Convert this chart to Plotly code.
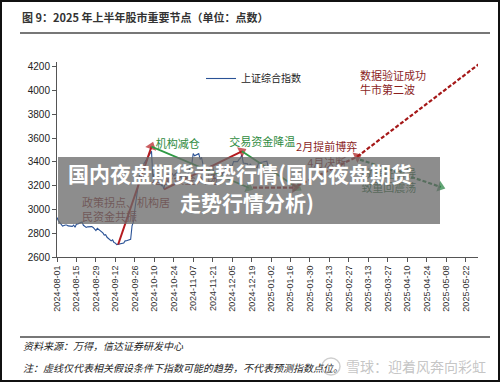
import plotly.graph_objects as go
import pandas as pd

# ---------------- data ----------------
dates = [
    "2024-08-01","2024-08-02","2024-08-05","2024-08-06","2024-08-07","2024-08-08","2024-08-09",
    "2024-08-12","2024-08-13","2024-08-14","2024-08-15","2024-08-16","2024-08-19","2024-08-20",
    "2024-08-21","2024-08-22","2024-08-23","2024-08-26","2024-08-27","2024-08-28","2024-08-29",
    "2024-08-30","2024-09-02","2024-09-03","2024-09-04","2024-09-05","2024-09-06","2024-09-09",
    "2024-09-10","2024-09-11","2024-09-12","2024-09-13","2024-09-18","2024-09-19","2024-09-20",
    "2024-09-23","2024-09-24","2024-09-25","2024-09-26","2024-09-27","2024-09-30","2024-10-08",
    "2024-10-09","2024-10-10","2024-10-11","2024-10-14","2024-10-15","2024-10-16","2024-10-17",
    "2024-10-18","2024-10-21","2024-10-22","2024-10-23","2024-10-24","2024-10-25","2024-10-28",
    "2024-10-29","2024-10-30","2024-10-31","2024-11-01","2024-11-04","2024-11-05","2024-11-06",
    "2024-11-07","2024-11-08","2024-11-11","2024-11-12","2024-11-13","2024-11-14","2024-11-15",
    "2024-11-18","2024-11-19","2024-11-20","2024-11-21","2024-11-22","2024-11-25","2024-11-26",
    "2024-11-27","2024-11-28","2024-11-29","2024-12-02","2024-12-03","2024-12-04","2024-12-05",
    "2024-12-06","2024-12-09","2024-12-10","2024-12-11","2024-12-12","2024-12-13","2024-12-16",
    "2024-12-17","2024-12-18","2024-12-19","2024-12-20","2024-12-23","2024-12-24","2024-12-25",
    "2024-12-26","2024-12-27","2024-12-30","2024-12-31",
]
sh_index = [
    2932, 2905, 2861, 2867, 2870, 2870, 2862,
    2858, 2868, 2851, 2877, 2879, 2894, 2867,
    2857, 2849, 2854, 2856, 2849, 2837, 2823,
    2842, 2811, 2803, 2784, 2788, 2766, 2736,
    2744, 2722, 2717, 2704, 2717, 2736, 2737,
    2749, 2863, 2896, 3001, 3088, 3337, 3490,
    3259, 3302, 3218, 3284, 3201, 3203, 3169,
    3262, 3268, 3286, 3303, 3280, 3300, 3322,
    3286, 3266, 3280, 3272, 3310, 3387, 3384,
    3471, 3452, 3470, 3422, 3439, 3380, 3331,
    3324, 3346, 3368, 3370, 3267, 3264, 3260,
    3310, 3296, 3326, 3364, 3379, 3365, 3368,
    3404, 3403, 3423, 3432, 3462, 3392, 3386,
    3361, 3382, 3370, 3368, 3352, 3394, 3393,
    3398, 3400, 3407, 3352,
]
series_name = "上证综合指数"

y_ticks = [2600, 2800, 3000, 3200, 3400, 3600, 3800, 4000, 4200]
x_ticks = list(pd.date_range("2024-08-01", "2025-05-22", freq="14D"))

# trend arrows (start / end in data units)
trend_x0 = ["2024-09-14", "2024-10-08", "2024-10-17", "2024-12-12", "2024-12-20", "2025-01-21", "2025-03-05", "2025-03-07"]
trend_y0 = [2705, 3530, 3170, 3490, 3185, 3200, 3445, 3420]
trend_x1 = ["2024-10-08", "2024-12-17", "2024-12-12", "2025-01-21", "2025-01-19", "2025-03-05", "2025-06-01", "2025-05-04"]
trend_y1 = [3530, 3183, 3490, 3183, 3185, 3445, 4228, 3190]
trend_color = ["#b51a1e", "#2f9a45", "#b51a1e", "#2f9a45", "#a51818", "#a51818", "#a51818", "#1f7d3a"]
trend_dash = ["solid", "solid", "solid", "solid", "4px,2px", "4px,2px", "4px,2px", "4px,2px"]
trend_width = [2, 1.8, 2, 1.8, 2.2, 2.2, 2.2, 2.2]

# text labels inside the plot
label_text = ["机构减仓", "交易资金降温", "2月提前博弈", "4月决断", "数据验证成功<br>牛市第二波",
              "数据证伪导<br>致重回震荡", "政策拐点、机构居<br>民资金共振", "增量资金入场"]
label_x = ["2024-10-11", "2024-12-03", "2025-01-20", "2025-01-28", "2025-03-07",
           "2025-03-08", "2024-08-19", "2024-10-08"]
label_y = [3543, 3560, 3518, 3383, 4053, 3232, 2983, 3242]
label_color = ["#2e8b3e", "#2e8b3e", "#8b1e1e", "#8b1e1e", "#8b1e1e", "#1f6b35", "#8b1e1e", "#8b1e1e"]

# ---------------- layout helpers ----------------
W, H = 500, 382
ML, MR, MT, MB = 57, 22, 62, 125
PW, PH = W - ML - MR, H - MT - MB


def px(x):
    return (x - ML) / PW


def py(y):
    return (H - MB - y) / PH


CJK = "Noto Sans CJK SC"
LAT = "Liberation Sans"

fig = go.Figure()

fig.add_trace(go.Scatter(
    x=dates, y=sh_index, mode="lines", name=series_name,
    line=dict(color="#2a5296", width=1.1), hoverinfo="skip",
))

for i in range(len(trend_x0)):
    fig.add_trace(go.Scatter(
        x=[trend_x0[i], trend_x1[i]], y=[trend_y0[i], trend_y1[i]],
        mode="lines+markers", showlegend=False, cliponaxis=False, hoverinfo="skip",
        line=dict(color=trend_color[i], width=trend_width[i], dash=trend_dash[i]),
        marker=dict(symbol="triangle-up", size=[0, 10], angleref="previous",
                    color=trend_color[i], line=dict(width=0)),
    ))

for i in range(len(label_text)):
    fig.add_trace(go.Scatter(
        x=[label_x[i]], y=[label_y[i]], mode="text", text=[label_text[i]],
        textposition="middle right", showlegend=False, cliponaxis=False, hoverinfo="skip",
        textfont=dict(family=CJK, size=11, color=label_color[i]),
    ))

shapes = [
    dict(type="line", xref="paper", yref="paper", x0=px(20), x1=px(490), y0=py(33), y1=py(33),
         line=dict(color="#4a4a4a", width=1.5)),
    dict(type="line", xref="paper", yref="paper", x0=px(20), x1=px(490), y0=py(337), y1=py(337),
         line=dict(color="#4a4a4a", width=1.5)),
    dict(type="rect", xref="paper", yref="paper", x0=px(58), x1=px(440), y0=py(224), y1=py(157),
         fillcolor="rgba(105,105,105,0.76)", line=dict(width=0), layer="above"),
    dict(type="circle", xref="paper", yref="paper", x0=px(322), x1=px(340), y0=py(375), y1=py(358),
         line=dict(color="#cfcfcf", width=1.5)),
    dict(type="rect", xref="paper", yref="paper", x0=px(0), x1=px(W), y0=py(H), y1=py(0),
         line=dict(color="#111111", width=4), fillcolor="rgba(0,0,0,0)"),
]

annotations = [
    dict(text="图 9：2025 年上半年股市重要节点（单位：点数）", xref="paper", yref="paper",
         x=px(20), y=py(17), xanchor="left", yanchor="middle", showarrow=False,
         font=dict(family=CJK, size=11, color="#333333", weight="bold")),
    dict(text="<i>资料来源：万得，信达证券研发中心</i>", xref="paper", yref="paper",
         x=px(21), y=py(345), xanchor="left", yanchor="middle", showarrow=False,
         font=dict(family=CJK, size=10, color="#222222")),
    dict(text="<i>注：虚线仅代表相关假设条件下指数可能的趋势，不代表预测指数点位。</i>", xref="paper", yref="paper",
         x=px(21), y=py(367), xanchor="left", yanchor="middle", showarrow=False,
         font=dict(family=CJK, size=10, color="#222222")),
    dict(text="雪球：迎着风奔向彩虹", xref="paper", yref="paper",
         x=px(344), y=py(366), xanchor="left", yanchor="middle", showarrow=False,
         font=dict(family=CJK, size=14, color="rgba(190,190,190,0.9)")),
    dict(text="国内夜盘期货走势行情(国内夜盘期货", xref="paper", yref="paper",
         x=px(240), y=py(173), xanchor="center", yanchor="middle", showarrow=False,
         font=dict(family=CJK, size=21, color="white", weight="bold")),
    dict(text="走势行情分析)", xref="paper", yref="paper",
         x=px(247), y=py(202), xanchor="center", yanchor="middle", showarrow=False,
         font=dict(family=CJK, size=21, color="white", weight="bold")),
]

fig.update_layout(
    width=W, height=H,
    margin=dict(l=ML, r=MR, t=MT, b=MB),
    paper_bgcolor="white", plot_bgcolor="white",
    shapes=shapes, annotations=annotations,
    showlegend=True,
    legend=dict(x=px(201), y=py(64), xanchor="left", yanchor="top",
                bgcolor="rgba(0,0,0,0)", font=dict(family=CJK, size=10, color="#222222")),
    xaxis=dict(type="date", range=["2024-08-01", "2025-05-30 21:36"],
               tickvals=x_ticks, tickformat="%Y-%m-%d", tickangle=-90,
               ticks="outside", ticklen=4, tickcolor="#555555",
               showline=True, linecolor="#555555", linewidth=1,
               showgrid=False, zeroline=False,
               tickfont=dict(family=LAT, size=9, color="#333333")),
    yaxis=dict(range=[2600, 4242], tickvals=y_ticks,
               ticks="outside", ticklen=4, tickcolor="#555555",
               showline=True, linecolor="#555555", linewidth=1,
               showgrid=False, zeroline=False,
               tickfont=dict(family=LAT, size=10, color="#222222")),
)

fig.write_html("out.html")
